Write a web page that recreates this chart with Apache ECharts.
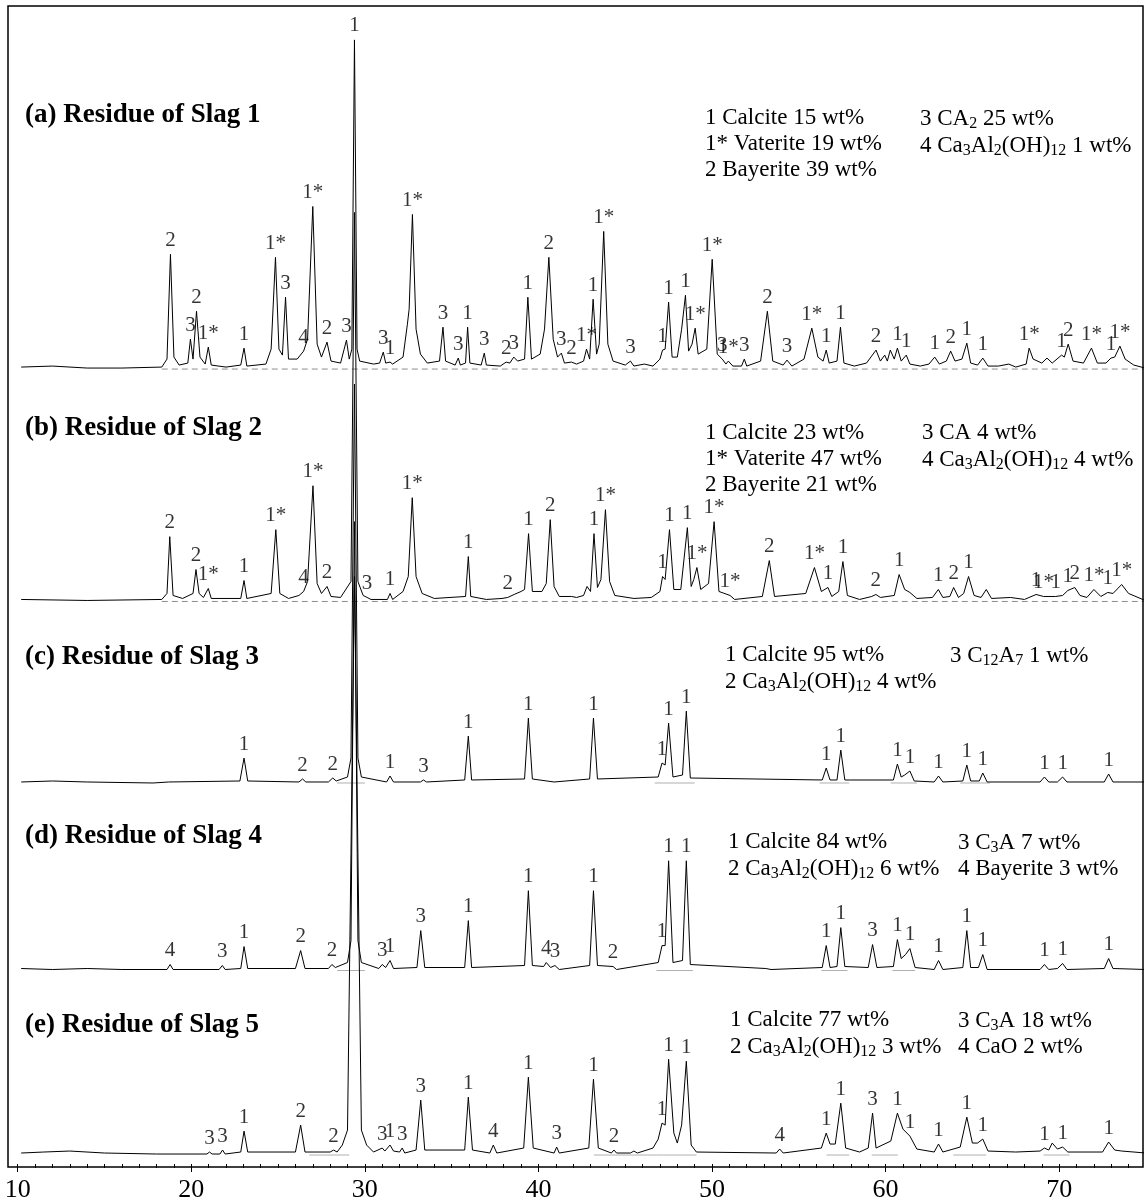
<!DOCTYPE html>
<html>
<head>
<meta charset="utf-8">
<script src="https://cdn.jsdelivr.net/npm/echarts@6/dist/echarts.min.js"></script>
<style>
  html, body { margin: 0; padding: 0; background: #fff; }
  #chart { width: 1145px; height: 1203px; }
</style>
</head>
<body>
<div id="chart"></div>
<script>
// 2θ tick labels shown under the frame
const xTicks = [10, 20, 30, 40, 50, 60, 70];

const panelTitles = [
  '(a) Residue of Slag 1',
  '(b) Residue of Slag 2',
  '(c) Residue of Slag 3',
  '(d) Residue of Slag 4',
  '(e) Residue of Slag 5'
];

// phase lists, two columns per panel ({s|..} = subscript)
const phasesLeft = [
  '1 Calcite 15 wt%\n1* Vaterite 19 wt%\n2 Bayerite 39 wt%',
  '1 Calcite 23 wt%\n1* Vaterite 47 wt%\n2 Bayerite 21 wt%',
  '1 Calcite 95 wt%\n2 Ca{s|3}Al{s|2}(OH){s|12} 4 wt%',
  '1 Calcite 84 wt%\n2 Ca{s|3}Al{s|2}(OH){s|12} 6 wt%',
  '1 Calcite 77 wt%\n2 Ca{s|3}Al{s|2}(OH){s|12} 3 wt%'
];
const phasesRight = [
  '3 CA{s|2} 25 wt%\n4 Ca{s|3}Al{s|2}(OH){s|12} 1 wt%',
  '3 CA 4 wt%\n4 Ca{s|3}Al{s|2}(OH){s|12} 4 wt%',
  '3 C{s|12}A{s|7} 1 wt%',
  '3 C{s|3}A 7 wt%\n4 Bayerite 3 wt%',
  '3 C{s|3}A 18 wt%\n4 CaO 2 wt%'
];

// diffraction traces: [2θ (deg), intensity above the trace's own baseline]
const slag1 = [
  [10.2,2],[12,3],[14,1],[16,1],[18.3,2],
  [18.6,10],[18.8,115],[19.0,12],[19.3,4],
  [19.8,6],[19.95,30],[20.1,10],[20.3,58],[20.5,12],
  [20.8,5],[20.98,22],[21.15,4],
  [22.0,2],[22.85,4],[23.04,21],[23.2,3],
  [24.3,5],[24.6,20],[24.85,112],[25.05,20],[25.25,14],[25.43,72],[25.6,10],
  [26.1,10],[26.47,18],[26.7,30],[27.0,163],[27.25,25],[27.5,12],
  [27.82,27],[28.05,8],[28.6,6],[28.94,29],[29.1,10],
  [29.25,20],[29.4,330],[29.55,20],
  [29.7,8],[30.5,5],[30.85,6],[31.06,17],[31.2,6],[31.45,7],[31.6,5],
  [32.2,12],[32.45,45],[32.55,60],[32.74,155],[32.95,40],[33.2,15],[33.6,6],
  [34.3,8],[34.5,42],[34.65,8],[35.2,4],[35.38,11],[35.5,4],[35.8,6],[35.92,42],[36.05,6],
  [36.7,4],[36.88,16],[37.0,4],[37.8,3],[38.14,7],[38.35,6],[38.58,12],[38.8,8],
  [39.2,10],[39.39,72],[39.6,10],[40.1,15],[40.35,40],[40.6,112],[40.85,30],[41.1,12],[41.32,16],[41.5,6],
  [41.9,7],[42.2,5],[42.6,8],[42.77,20],[42.95,10],[43.15,70],[43.35,15],[43.5,25],[43.76,138],[44.0,25],[44.3,8],
  [45.0,4],[45.3,8],[45.5,3],[46.1,5],[46.6,3],
  [47.0,10],[47.15,19],[47.3,20],[47.5,67],[47.7,12],[48.0,12],[48.25,40],[48.47,74],[48.65,18],[48.85,25],[49.03,41],[49.2,15],
  [49.7,20],[50.01,110],[50.3,15],[50.59,10],[50.8,5],[50.94,8],[51.2,3],[51.7,3],[51.86,10],[52.0,3],
  [52.8,8],[53.19,58],[53.5,8],[54.1,4],[54.32,9],[54.6,3],
  [55.3,10],[55.75,41],[56.1,12],[56.4,8],[56.58,19],[56.75,6],[57.2,8],[57.4,42],[57.6,6],
  [58.2,3],[58.9,6],[59.45,19],[59.7,8],[59.95,14],[60.1,8],[60.27,19],[60.5,10],[60.68,21],[60.9,8],[61.19,14],[61.4,5],
  [62.0,3],[62.5,5],[62.83,12],[63.1,5],[63.5,8],[63.75,18],[64.0,8],[64.4,10],[64.68,26],[64.9,6],[65.3,4],[65.6,11],[65.9,3],
  [66.5,3],[67.1,5],[67.5,2],[68.1,5],[68.27,21],[68.5,10],[69.0,6],[69.3,11],[69.6,6],[70.14,14],[70.3,12],[70.52,25],[70.8,8],
  [71.4,6],[71.86,21],[72.2,6],[72.7,6],[72.98,11],[73.2,12],[73.5,23],[73.8,10],[74.3,4],[74.95,1]
];

const slag2 = [
  [10.2,2],[14,1],[18.3,2],[18.6,8],[18.76,65],[18.95,6],[19.5,3],
  [20.1,8],[20.27,32],[20.45,8],[20.7,4],[20.98,13],[21.15,3],
  [22.85,3],[23.04,21],[23.2,3],
  [24.6,8],[24.87,72],[25.1,8],[25.6,3],
  [26.2,6],[26.47,10],[26.7,20],[27.01,116],[27.25,18],[27.5,8],[27.82,15],[28.05,5],[28.6,4],
  [29.2,20],[29.4,390],[29.6,20],
  [29.9,6],[30.13,4],[30.35,2],[31.3,2],[31.45,8],[31.6,2],
  [32.2,10],[32.5,25],[32.73,104],[32.95,25],[33.3,8],[34.0,3],
  [35.8,5],[35.96,45],[36.1,5],[37.0,2],
  [37.9,3],[38.23,4],[38.6,7],[39.0,10],[39.2,12],[39.43,68],[39.65,10],
  [40.2,10],[40.45,18],[40.68,82],[40.9,15],[41.2,5],[41.9,5],[42.2,4],[42.6,6],[42.8,15],[43.0,10],[43.2,68],[43.4,14],[43.6,22],[43.86,92],[44.1,20],[44.4,6],
  [45.5,3],[46.5,4],[47.0,10],[47.15,25],[47.3,22],[47.55,72],[47.8,12],[48.2,12],[48.58,74],[48.8,15],[48.95,22],[49.13,34],[49.35,12],
  [49.8,18],[50.12,80],[50.4,10],[51.04,6],[51.3,2],
  [52.9,5],[53.3,41],[53.6,5],
  [55.4,8],[55.9,34],[56.3,10],[56.68,14],[56.9,5],[57.3,10],[57.54,40],[57.8,6],
  [58.5,2],[59.2,5],[59.44,7],[59.7,4],[60.5,6],[60.78,27],[61.1,12],[61.4,9],[61.8,3],
  [62.7,4],[63.04,12],[63.3,4],[63.7,5],[63.92,14],[64.2,4],[64.5,8],[64.78,25],[65.1,6],[65.5,4],[65.8,12],[66.1,3],
  [67.2,4],[68.0,2],[68.67,7],[69.1,5],[69.8,5],[70.2,6],[70.5,11],[70.9,14],[71.2,6],[71.6,4],[72.0,12],[72.4,5],[72.8,9],[73.1,8],[73.6,17],[74.0,8],[74.95,1]
];

const slag3 = [
  [10.2,1],[12,2],[14,1],[17.8,0],[18.7,1],
  [22.8,2],[23.04,25],[23.25,2],
  [26.2,1],[26.41,4],[26.6,1],[27.9,1],[28.15,5],[28.35,2],
  [29.0,6],[29.2,25],[29.4,400],[29.6,25],[29.8,6],
  [31.25,1],[31.45,7],[31.65,1],[33.2,1],[33.38,3],[33.55,1],
  [35.75,3],[35.96,47],[36.15,3],
  [39.2,4],[39.42,65],[39.65,4],[40.9,1],[42.95,4],[43.17,65],[43.4,4],
  [46.9,6],[47.12,20],[47.3,18],[47.5,60],[47.75,6],[48.3,8],[48.52,72],[48.75,5],
  [56.35,3],[56.58,15],[56.8,3],[57.2,3],[57.42,33],[57.65,3],[58.0,3],
  [60.45,3],[60.68,19],[60.9,6],[61.1,8],[61.4,12],[61.65,2],
  [62.8,1],[63.05,7],[63.3,1],[64.45,2],[64.68,18],[64.9,2],[65.4,2],[65.6,10],[65.85,1],
  [68.9,1],[69.15,6],[69.4,1],[69.9,1],[70.2,6],[70.45,1],
  [72.6,1],[72.85,9],[73.1,1],[75.0,1]
];

const slag4 = [
  [10.2,2],[12,1],[14,2],[16,1],
  [18.6,1],[18.78,6],[18.95,1],[21.6,1],[21.79,5],[21.95,1],
  [22.85,2],[23.04,24],[23.25,2],
  [26.0,2],[26.3,20],[26.55,2],[27.9,2],[28.1,6],[28.3,3],
  [29.0,8],[29.2,30],[29.4,450],[29.6,30],[29.8,8],
  [30.8,2],[31.0,6],[31.2,3],[31.45,10],[31.65,2],
  [33.0,3],[33.22,40],[33.45,3],
  [35.75,3],[35.96,50],[36.15,3],
  [39.2,5],[39.42,80],[39.65,5],[40.3,4],[40.45,8],[40.7,3],[40.95,5],[41.2,1],
  [42.95,5],[43.17,80],[43.4,5],[44.3,4],[44.5,1],
  [46.9,8],[47.12,25],[47.3,25],[47.5,110],[47.75,8],[48.3,10],[48.52,110],[48.75,6],
  [53.1,2],[53.4,1],
  [56.35,3],[56.58,25],[56.8,3],[57.2,4],[57.42,43],[57.65,4],
  [59.0,3],[59.25,26],[59.5,3],
  [60.45,4],[60.68,31],[60.9,12],[61.15,16],[61.4,22],[61.7,3],
  [62.8,1],[63.05,10],[63.3,1],[64.45,3],[64.68,40],[64.9,3],[65.35,3],[65.6,16],[65.85,1],
  [68.9,1],[69.15,6],[69.4,1],[69.9,2],[70.2,7],[70.45,1],[72.6,2],[72.85,12],[73.1,2],[75.0,1]
];

const slag5 = [
  [10.2,2],[11.5,3],[13,4],[15,2],[18,1],
  [20.9,1],[21.05,3],[21.2,1],[21.65,1],[21.8,5],[21.95,1],
  [22.85,3],[23.04,24],[23.25,3],
  [26.0,3],[26.3,30],[26.55,3],[28.0,3],[28.2,5],[28.4,3],
  [28.7,10],[29.0,25],[29.4,580],[29.8,25],[30.1,10],[30.5,3],
  [31.0,7],[31.15,4],[31.45,10],[31.65,4],[32.0,3],[32.15,7],[32.3,2],
  [32.95,5],[33.22,55],[33.45,5],
  [35.75,5],[35.96,58],[36.2,5],[37.2,2],[37.4,10],[37.6,2],
  [39.15,7],[39.42,78],[39.7,7],[40.9,2],[41.05,8],[41.2,2],
  [42.9,7],[43.17,76],[43.45,7],[44.2,2],[44.35,5],[44.5,2],[45.3,2],[45.5,4],[45.7,2],
  [46.6,7],[46.9,16],[47.12,32],[47.3,30],[47.5,96],[47.8,22],[48.0,12],[48.25,30],[48.52,94],[48.8,10],[49.1,3],
  [53.7,2],[53.9,6],[54.1,2],
  [56.3,7],[56.58,22],[56.8,11],[57.1,11],[57.42,52],[57.7,7],[58.5,3],
  [59.0,7],[59.25,42],[59.45,7],[60.3,14],[60.68,42],[61.0,26],[61.4,19],[61.8,6],
  [62.8,3],[63.05,11],[63.3,3],[64.3,8],[64.68,38],[65.0,12],[65.3,12],[65.6,16],[65.9,4],
  [67.5,3],[68.9,4],[69.15,7],[69.4,5],[69.6,12],[69.9,6],[70.2,8],[70.5,3],
  [72.5,3],[72.85,13],[73.2,5],[73.6,4],[75.0,2]
];

// peak assignments: [2θ of the marked peak, phase number]
const marks1 = [
  [18.8,'2'],[19.95,'3'],[20.3,'2'],[20.98,'1*'],[23.04,'1'],[24.85,'1*'],[25.43,'3'],[26.47,'4'],[27.0,'1*'],
  [27.82,'2'],[28.94,'3'],[29.4,'1'],[31.06,'3'],[31.45,'1'],[32.74,'1*'],[34.5,'3'],[35.38,'3'],[35.92,'1'],
  [36.88,'3'],[38.14,'2'],[38.58,'3'],[39.39,'1'],[40.6,'2'],[41.32,'3'],[41.9,'2'],[42.77,'1*'],[43.15,'1'],
  [43.76,'1*'],[45.3,'3'],[47.15,'1'],[47.5,'1'],[48.47,'1'],[49.03,'1*'],[50.01,'1*'],[50.59,'3'],[50.94,'1*'],
  [51.86,'3'],[53.19,'2'],[54.32,'3'],[55.75,'1*'],[56.58,'1'],[57.4,'1'],[59.45,'2'],[60.68,'1'],[61.19,'1'],
  [62.83,'1'],[63.75,'2'],[64.68,'1'],[65.6,'1'],[68.27,'1*'],[70.14,'1'],[70.52,'2'],[71.86,'1*'],[72.98,'1'],[73.5,'1*']
];
const marks2 = [
  [18.76,'2'],[20.27,'2'],[20.98,'1*'],[23.04,'1'],[24.87,'1*'],[26.47,'4'],[27.01,'1*'],[27.82,'2'],[30.13,'3'],
  [31.45,'1'],[32.73,'1*'],[35.96,'1'],[38.23,'2'],[39.43,'1'],[40.68,'2'],[43.2,'1'],[43.86,'1*'],[47.15,'1'],
  [47.55,'1'],[48.58,'1'],[49.13,'1*'],[50.12,'1*'],[51.04,'1*'],[53.3,'2'],[55.9,'1*'],[56.68,'1'],[57.54,'1'],
  [59.44,'2'],[60.78,'1'],[63.04,'1'],[63.92,'2'],[64.78,'1'],[68.67,'1'],[69.1,'1*'],[69.8,'1'],[70.5,'1'],
  [70.9,'2'],[72.0,'1*'],[72.8,'1'],[73.6,'1*']
];
const marks3 = [
  [23.04,'1'],[26.41,'2'],[28.15,'2'],[31.45,'1'],[33.38,'3'],[35.96,'1'],[39.42,'1'],[43.17,'1'],[47.12,'1'],
  [47.5,'1'],[48.52,'1'],[56.58,'1'],[57.42,'1'],[60.68,'1'],[61.4,'1'],[63.05,'1'],[64.68,'1'],[65.6,'1'],
  [69.15,'1'],[70.2,'1'],[72.85,'1']
];
const marks4 = [
  [18.78,'4'],[21.79,'3'],[23.04,'1'],[26.3,'2'],[28.1,'2'],[31.0,'3'],[31.45,'1'],[33.22,'3'],[35.96,'1'],
  [39.42,'1'],[40.45,'4'],[40.95,'3'],[43.17,'1'],[44.3,'2'],[47.12,'1'],[47.5,'1'],[48.52,'1'],[56.58,'1'],
  [57.42,'1'],[59.25,'3'],[60.68,'1'],[61.4,'1'],[63.05,'1'],[64.68,'1'],[65.6,'1'],[69.15,'1'],[70.2,'1'],[72.85,'1']
];
const marks5 = [
  [21.05,'3'],[21.8,'3'],[23.04,'1'],[26.3,'2'],[28.2,'2'],[31.0,'3'],[31.45,'1'],[32.15,'3'],[33.22,'3'],
  [35.96,'1'],[37.4,'4'],[39.42,'1'],[41.05,'3'],[43.17,'1'],[44.35,'2'],[47.12,'1'],[47.5,'1'],[48.52,'1'],
  [53.9,'4'],[56.58,'1'],[57.42,'1'],[59.25,'3'],[60.68,'1'],[61.4,'1'],[63.05,'1'],[64.68,'1'],[65.6,'1'],
  [69.15,'1'],[70.2,'1'],[72.85,'1']
];

// fitted background under each trace: [from 2θ, to 2θ]
const background1 = [[18.3, 75.0]];
const background2 = [[18.3, 75.0]];
const background3 = [[28.4, 30.0], [46.7, 49.0], [56.2, 57.9], [60.3, 61.8], [64.3, 66.0]];
const background4 = [[28.4, 30.0], [46.8, 48.9], [56.3, 57.8], [60.4, 61.7]];
const background5 = [[26.8, 29.1], [43.2, 46.8], [46.8, 49.1], [56.6, 57.9], [59.2, 60.7], [63.9, 65.8], [69.1, 70.6]];

// ---- layout ----
const traces = [slag1, slag2, slag3, slag4, slag5];
const marks = [marks1, marks2, marks3, marks4, marks5];
const backgrounds = [background1, background2, background3, background4, background5];
const traceOffsets = [797, 564, 382, 194, 9];
const dashedBackground = [true, true, false, false, false];

const FONT = '"Liberation Serif", "Times New Roman", serif';
const frame = { x: 8, y: 6, w: 1135, h: 1161 };
const xRange = [9.44, 74.83];
const minorTickValues = [];
for (let v = 10; v <= 74; v++) minorTickValues.push(v);

const titleY = [115, 428, 657, 836, 1025];
const phaseY = [118, 433, 655, 842, 1020];
const phaseLeftX = [705, 705, 725, 728, 730];
const phaseRightX = [920, 922, 950, 958, 958];

const chart = echarts.init(document.getElementById('chart'), null, { renderer: 'canvas' });

const series = [];
traces.forEach((tr, i) => {
  const off = traceOffsets[i];
  backgrounds[i].forEach(seg => {
    series.push({
      type: 'line', silent: true, symbol: 'none', z: 1,
      data: [[seg[0], off], [seg[1], off]],
      lineStyle: dashedBackground[i]
        ? { color: '#8c8c8c', width: 1, type: [6, 4] }
        : { color: '#b0b0b0', width: 1 }
    });
  });
  series.push({
    type: 'line', silent: true, symbol: 'none', z: 3,
    data: tr.map(p => [p[0], p[1] + off]),
    lineStyle: { color: '#000', width: 1 }
  });
  const lookup = new Map(tr.map(p => [p[0], p[1]]));
  series.push({
    type: 'scatter', silent: true, symbolSize: 1, z: 4,
    itemStyle: { color: 'rgba(0,0,0,0)' },
    data: marks[i].map(m => ({ value: [m[0], (lookup.get(m[0]) || 0) + off], t: m[1] })),
    label: {
      show: true, position: 'top', distance: 3,
      formatter: p => p.data.t,
      fontFamily: FONT, fontSize: 21, color: '#000'
    }
  });
});

const sub = { fontSize: 16, fontFamily: FONT, color: '#000', verticalAlign: 'bottom', lineHeight: 27 };
const titles = [];
panelTitles.forEach((t, i) => {
  titles.push({
    text: t, left: 25, top: titleY[i] - 16, padding: 0,
    textStyle: { fontFamily: FONT, fontSize: 27, fontWeight: 'bold', color: '#000', lineHeight: 32 }
  });
  [[phasesLeft[i], phaseLeftX[i]], [phasesRight[i], phaseRightX[i]]].forEach(([txt, x]) => {
    titles.push({
      text: txt, left: x, top: phaseY[i] - 13, padding: 0,
      textStyle: { fontFamily: FONT, fontSize: 23, fontWeight: 'normal', color: '#000', lineHeight: 26, rich: { s: sub } }
    });
  });
});

const baseAxis = {
  type: 'value', min: xRange[0], max: xRange[1], position: 'bottom', offset: 0,
  axisLine: { show: false },
  splitLine: { show: false }
};

chart.setOption({
  animation: false,
  backgroundColor: '#fff',
  title: titles,
  grid: { left: frame.x, top: frame.y, width: frame.w, height: frame.h, containLabel: false },
  xAxis: [
    Object.assign({}, baseAxis, {
      axisTick: { show: true, customValues: xTicks, length: 8, lineStyle: { color: '#000', width: 1 } },
      axisLabel: { customValues: xTicks, margin: 13, color: '#000', fontFamily: FONT, fontSize: 26 }
    }),
    Object.assign({}, baseAxis, {
      axisTick: { show: true, customValues: minorTickValues, length: 4, lineStyle: { color: '#000', width: 1 } },
      axisLabel: { show: false }
    })
  ],
  yAxis: { type: 'value', min: 0, max: frame.h, show: false },
  graphic: [{
    type: 'rect', z: 100, silent: true,
    shape: { x: frame.x, y: frame.y, width: frame.w, height: frame.h },
    style: { fill: 'none', stroke: '#000', lineWidth: 1.5 }
  }],
  series: series
});
</script>
</body>
</html>
